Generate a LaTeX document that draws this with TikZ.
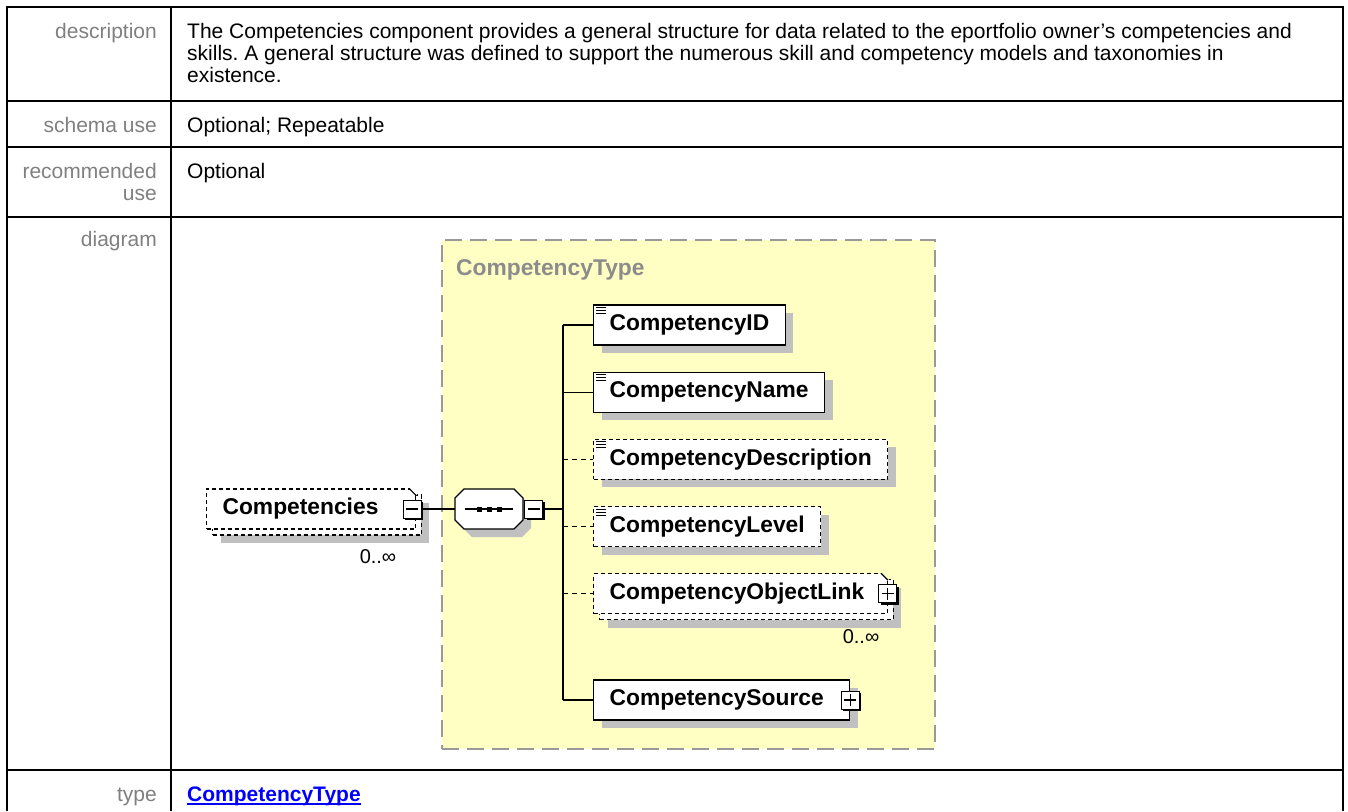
\documentclass[tikz,border=0pt]{standalone}
\usepackage{fontspec}
\setmainfont{Liberation Sans}
\usepackage{tikz}
\usetikzlibrary{positioning, calc, shadows}
\frenchspacing

\definecolor{labelgray}{HTML}{808080}
\definecolor{titlegray}{HTML}{8C8C8C}
\definecolor{typeyellow}{HTML}{FFFFC4}
\definecolor{typeborder}{HTML}{999999}
\definecolor{shadowgray}{HTML}{C0C0C0}
\definecolor{linkblue}{HTML}{0000FF}

\tikzstyle{rowlabel} = [inner sep=0pt, text=labelgray, font=\fontsize{21}{22}\selectfont, align=right]
\tikzstyle{cell} = [inner sep=0pt, font=\fontsize{21}{22}\selectfont, align=left]
\tikzstyle{tableline} = [line width=1.6pt]
\tikzstyle{elembox} = [rectangle, draw=black, fill=white, line width=1.2pt, minimum height=40pt, inner xsep=16pt, inner ysep=0pt, anchor=west, font=\bfseries\fontsize{22.8}{24}\selectfont]
\tikzstyle{castshadow} = [drop shadow={shadow xshift=8pt, shadow yshift=-8pt, opacity=1, fill=shadowgray}]
\tikzstyle{elem} = [elembox, castshadow]
\tikzstyle{optelem} = [elembox, castshadow, dash pattern=on 4pt off 3pt]
\tikzstyle{optfront} = [elembox, dash pattern=on 4pt off 3pt]
\tikzstyle{toggle} = [rectangle, draw=black, fill=white, line width=1pt, minimum size=18pt, inner sep=0pt, drop shadow={shadow xshift=2pt, shadow yshift=-2pt, opacity=1, fill=black}]
\tikzstyle{minusbox} = [toggle, path picture={\draw[line width=1.2pt] ($(path picture bounding box.west)+(3,0)$) -- ($(path picture bounding box.east)+(-3,0)$);}]
\tikzstyle{plusbox} = [toggle, path picture={\draw[line width=1.2pt] ($(path picture bounding box.west)+(3,0)$) -- ($(path picture bounding box.east)+(-3,0)$) ($(path picture bounding box.north)+(0,3)$) -- ($(path picture bounding box.south)+(0,-3)$);}]
\tikzstyle{link} = [line width=1.2pt]
\tikzstyle{optlink} = [line width=1.2pt, dash pattern=on 5pt off 4pt]
\tikzstyle{occurs} = [inner sep=0pt, font=\fontsize{20}{24}\selectfont]

% three lines in the corner of a simple-type element
\newcommand{\simpleicon}[1]{\foreach \dy in {3,6,9} \draw[line width=1pt] ($(#1.north west)+(3,\dy)$) -- +(10,0);}
% folded corner of a repeated element
\newcommand{\dogear}[2]{\fill[#2] ($(#1.north east)+(-7,-1)$) -- ($(#1.north east)+(1,-1)$) -- ($(#1.north east)+(1,7)$) -- cycle;
  \draw[line width=1.2pt] ($(#1.north east)+(-7,0)$) -- ($(#1.north east)+(0,7)$);}

\begin{document}
\begin{tikzpicture}[x=1pt, y=-1pt]
    \path[use as bounding box, fill=white] (0,0) rectangle (1348,811);

    % table
    \draw[tableline] (7,811) -- (7,7) -- (1343,7) -- (1343,811);
    \draw[tableline] (171,7) -- (171,811);
    \foreach \y in {101,147,217,770}
        \draw[tableline] (7,\y) -- (1343,\y);

    % row labels
    \node (desclabel) [rowlabel, anchor=base east] at (157,38) {description};
    \node (uselabel) [rowlabel, anchor=base east] at (157,132) {schema use};
    \node (reclabel) [rowlabel, anchor=north east] at (157,163) {recommended\\use};
    \node (diaglabel) [rowlabel, anchor=base east] at (157,246) {diagram};
    \node (typelabel) [rowlabel, anchor=base east] at (157,801) {type};

    % row contents
    \node (desctext) [cell, anchor=north west] at (187,23) {The Competencies component provides a general structure for data related to the eportfolio owner’s competencies and\\skills. A general structure was defined to support the numerous skill and competency models and taxonomies in\\existence.};
    \node (usetext) [cell, anchor=base west] at (187,132) {Optional; Repeatable};
    \node (rectext) [cell, anchor=base west] at (187,178) {Optional};
    \node (typelink) [cell, anchor=base west, text=linkblue, font=\bfseries\fontsize{21}{22}\selectfont] at (187,801) {CompetencyType};
    \draw[linkblue, line width=1.5pt] ($(typelink.base west)+(0,3)$) -- ($(typelink.base east)+(0,3)$);

    % complex type box
    \node (typebox) [draw=typeborder, fill=typeyellow, line width=2pt, dash pattern=on 17pt off 8pt, minimum width=493pt, minimum height=509pt, inner sep=0pt, anchor=north west] at (441,239) {};
    \node (typetitle) [anchor=base west, inner sep=0pt, text=titlegray, font=\bfseries\fontsize{22.8}{24}\selectfont] at (456,275) {CompetencyType};

    % root element
    \node (compstack) [optelem] at (212,515) {\phantom{Competencies}\hspace*{21pt}};
    \node (comp) [optfront] at (206,509) {Competencies\hspace*{21pt}};
    \dogear{comp}{white}
    \node (compminus) [minusbox] at ($(comp.east)+(-4,0)$) {};
    \node (compocc) [occurs] at (378,557) {0..∞};

    % sequence
    \node (seq) [minimum width=68pt, minimum height=40pt, inner sep=0pt] at (489,509) {};
    \begin{scope}[shift={(seq.center)}]
        \fill[shadowgray] (-17,-12) -- (33,-12) -- (42,-3) -- (42,19) -- (33,28) -- (-17,28) -- (-26,19) -- (-26,-3) -- cycle;
        \draw[fill=white, line width=1.2pt] (-25,-20) -- (25,-20) -- (34,-11) -- (34,11) -- (25,20) -- (-25,20) -- (-34,11) -- (-34,-11) -- cycle;
    \end{scope}
    \draw[link] ($(seq.west)+(10,0)$) -- ($(seq.east)+(-10,0)$);
    \foreach \dx in {-10,0,10}
        \fill ($(seq.center)+(\dx,0)$) +(-2.5,-2.5) rectangle +(2.5,2.5);
    \node (seqminus) [minusbox, right=1pt of seq] {};

    % children
    \node (cid) [elem] at (593,325) {CompetencyID};
    \node (cname) [elem, below=26pt of cid.south west, anchor=north west] {CompetencyName};
    \node (cdesc) [optelem, below=26pt of cname.south west, anchor=north west] {CompetencyDescription};
    \node (clevel) [optelem, below=26pt of cdesc.south west, anchor=north west] {CompetencyLevel};
    \node (clinkstack) [optelem, anchor=north west] at ($(clevel.south west)+(6,32)$) {\phantom{CompetencyObjectLink}\hspace*{7pt}};
    \node (clink) [optfront, below=26pt of clevel.south west, anchor=north west] {CompetencyObjectLink\hspace*{7pt}};
    \dogear{clink}{typeyellow}
    \node (csource) [elem, below=65pt of clink.south west, anchor=north west] {CompetencySource\hspace*{10pt}};
    \foreach \n in {cid,cname,cdesc,clevel}
        \simpleicon{\n}
    \node (clinkplus) [plusbox] at (clink.east) {};
    \node (csourceplus) [plusbox] at (csource.east) {};
    \node (clinkocc) [occurs] at (861,637) {0..∞};

    % connectors
    \coordinate (trunk) at (563,509);
    \draw[link] (compminus.east) -- (seq.west);
    \draw[link] (seqminus.east) -- (trunk);
    \draw[link] (trunk |- cid.west) -- (trunk |- csource.west);
    \foreach \n in {cid,cname,csource}
        \draw[link] (trunk |- \n.west) -- (\n.west);
    \foreach \n in {cdesc,clevel,clink}
        \draw[optlink] (trunk |- \n.west) -- (\n.west);
\end{tikzpicture}
\end{document}
